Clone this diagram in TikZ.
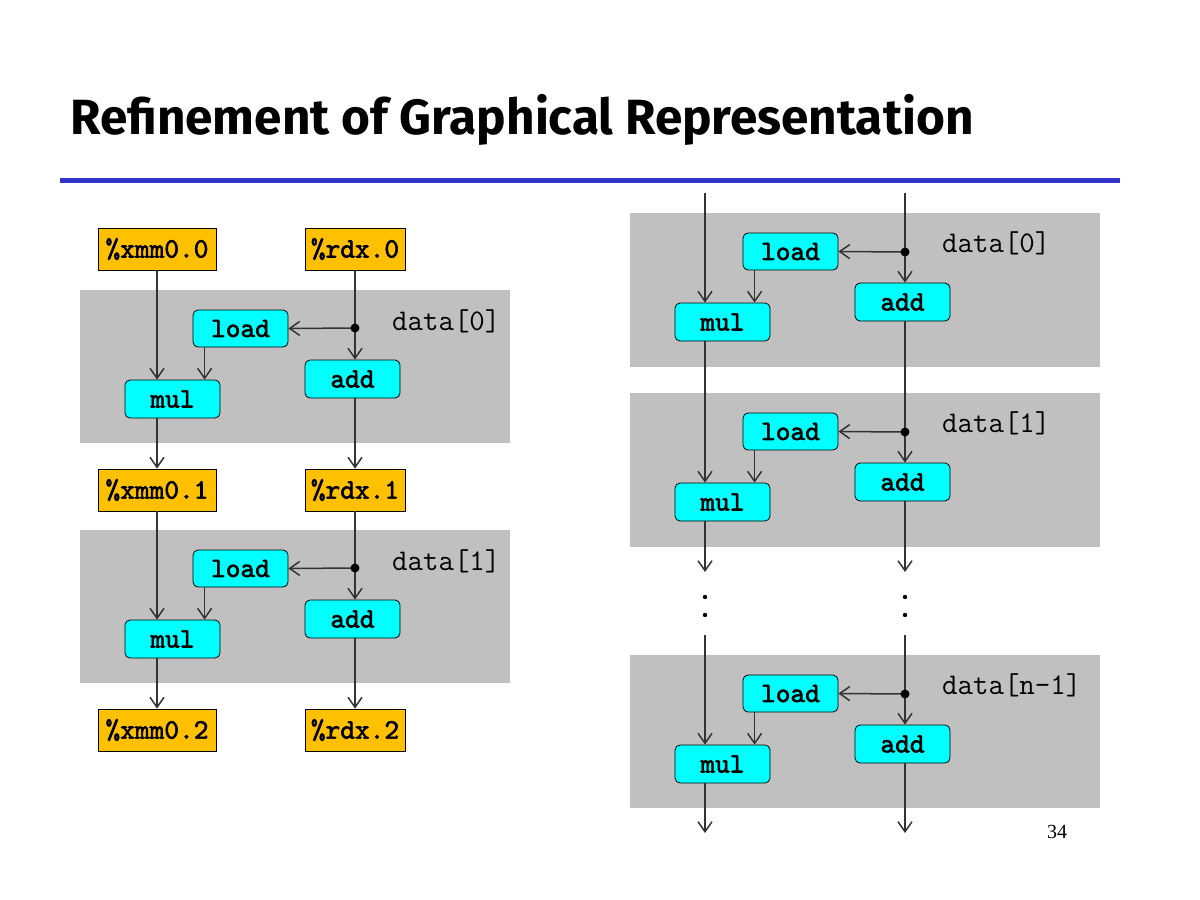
\documentclass[tikz,border=0pt]{standalone}
\usepackage{fontspec}
\usetikzlibrary{arrows.meta}
\newfontfamily\titlefont{Fira Sans}
\newfontfamily\pagefont{Liberation Serif}
\newfontfamily\codebold[FakeBold=2.2]{lmmono10-regular.otf}
\definecolor{regcolor}{HTML}{FFC000}
\definecolor{opcolor}{HTML}{00FFFF}
\definecolor{iterbg}{HTML}{C0C0C0}
\definecolor{rulecolor}{HTML}{3333CC}
\definecolor{wirecolor}{HTML}{333333}

\begin{document}
\begin{tikzpicture}[x=1pt,y=-1pt]

    \tikzset{
      reg/.style={
        draw=black,
        fill=regcolor,
        line width=0.8pt,
        minimum height=42pt,
        inner sep=0pt,
        font=\codebold\fontsize{28}{28}\selectfont,
      },
      op/.style={
        draw=black,
        fill=opcolor,
        rounded corners=5pt,
        line width=0.8pt,
        minimum width=95pt,
        minimum height=38pt,
        inner sep=0pt,
        font=\codebold\fontsize{28}{28}\selectfont,
      },
      iter/.style={anchor=west, inner sep=0pt, font=\ttfamily\fontsize{30}{30}\selectfont},
      wire/.style={color=wirecolor, line width=1.5pt},
      flow/.style={wire, -{Straight Barb[length=10pt,width=14pt]}},
      junction/.style={fill=black},
    }
    \useasboundingbox (0,0) rectangle (1200,900);

	% title and rule
	\node[anchor=west, inner sep=0pt, font=\titlefont\bfseries\fontsize{49.5}{54}\selectfont] (title) at (70,120) {Refinement of Graphical Representation};
	\fill[rulecolor] (60,178) rectangle (1120,182.5);

	% left: two iterations with registers
	\fill[iterbg] (80,290) rectangle (510,443);
	\fill[iterbg] (80,530) rectangle (510,683);

	\node[reg, minimum width=118pt] (xmm0) at (157,249) {\%xmm0.0};
	\node[reg, minimum width=100pt] (rdx0) at (355,249) {\%rdx.0};
	\node[reg, minimum width=118pt] (xmm1) at (157,490) {\%xmm0.1};
	\node[reg, minimum width=100pt] (rdx1) at (355,490) {\%rdx.1};
	\node[reg, minimum width=118pt] (xmm2) at (157,730) {\%xmm0.2};
	\node[reg, minimum width=100pt] (rdx2) at (355,730) {\%rdx.2};

	\node[op, minimum height=37pt] (loadL0) at (240.5,328.5) {load};
	\node[op] (mulL0) at (172.5,399) {mul};
	\node[op] (addL0) at (352.5,379) {add};
	\node[iter] (iterL0) at (392,321) {data[0]};
	\coordinate (dotL0) at (355,328);

	\node[op, minimum height=37pt] (loadL1) at (240.5,568.5) {load};
	\node[op] (mulL1) at (172.5,639) {mul};
	\node[op] (addL1) at (352.5,619) {add};
	\node[iter] (iterL1) at (392,561) {data[1]};
	\coordinate (dotL1) at (355,568);

	\draw[flow] (xmm0.south) -- (xmm0.south |- mulL0.north);
	\draw[wire] (rdx0.south) -- (dotL0);
	\draw[flow] (dotL0) -- (dotL0 |- addL0.north);
	\draw[flow] (dotL0) -- (loadL0.east);
	\fill[junction] (dotL0) circle (4.5pt);
	\draw[flow] ([xshift=12pt]loadL0.south west) -- ([xshift=12pt]loadL0.south west |- mulL0.north);
	\draw[flow] (xmm1.north |- mulL0.south) -- (xmm1.north);
	\draw[flow] (rdx1.north |- addL0.south) -- (rdx1.north);

	\draw[flow] (xmm1.south) -- (xmm1.south |- mulL1.north);
	\draw[wire] (rdx1.south) -- (dotL1);
	\draw[flow] (dotL1) -- (dotL1 |- addL1.north);
	\draw[flow] (dotL1) -- (loadL1.east);
	\fill[junction] (dotL1) circle (4.5pt);
	\draw[flow] ([xshift=12pt]loadL1.south west) -- ([xshift=12pt]loadL1.south west |- mulL1.north);
	\draw[flow] (xmm2.north |- mulL1.south) -- (xmm2.north);
	\draw[flow] (rdx2.north |- addL1.south) -- (rdx2.north);

	% right: iterations chained
	\fill[iterbg] (630,213) rectangle (1100,367);
	\fill[iterbg] (630,393) rectangle (1100,547);
	\fill[iterbg] (630,655) rectangle (1100,808);

	\node[op, minimum height=37pt] (loadR0) at (790.5,251.5) {load};
	\node[op] (mulR0) at (722.5,322) {mul};
	\node[op] (addR0) at (902.5,302) {add};
	\node[iter] (iterR0) at (942,243) {data[0]};
	\coordinate (dotR0) at (905,252);

	\node[op, minimum height=37pt] (loadR1) at (790.5,431.5) {load};
	\node[op] (mulR1) at (722.5,502) {mul};
	\node[op] (addR1) at (902.5,482) {add};
	\node[iter] (iterR1) at (942,423) {data[1]};
	\coordinate (dotR1) at (905,432);

	\node[op, minimum height=37pt] (loadR2) at (790.5,693.5) {load};
	\node[op] (mulR2) at (722.5,764) {mul};
	\node[op] (addR2) at (902.5,744) {add};
	\node[iter] (iterR2) at (942,685) {data[n-1]};
	\coordinate (dotR2) at (905,694);

	\coordinate (mtop) at (705,193);
	\coordinate (atop) at (905,193);
	\coordinate (mgap) at (705,572);
	\coordinate (agap) at (905,572);
	\coordinate (mresume) at (705,635);
	\coordinate (aresume) at (905,635);
	\coordinate (mend) at (705,833);
	\coordinate (aend) at (905,833);

	\draw[flow] (mtop) -- (mtop |- mulR0.north);
	\draw[wire] (atop) -- (dotR0);
	\draw[flow] (dotR0) -- (dotR0 |- addR0.north);
	\draw[flow] (dotR0) -- (loadR0.east);
	\fill[junction] (dotR0) circle (4.5pt);
	\draw[flow] ([xshift=12pt]loadR0.south west) -- ([xshift=12pt]loadR0.south west |- mulR0.north);

	\draw[flow] (mtop |- mulR0.south) -- (mtop |- mulR1.north);
	\draw[wire] (atop |- addR0.south) -- (dotR1);
	\draw[flow] (dotR1) -- (dotR1 |- addR1.north);
	\draw[flow] (dotR1) -- (loadR1.east);
	\fill[junction] (dotR1) circle (4.5pt);
	\draw[flow] ([xshift=12pt]loadR1.south west) -- ([xshift=12pt]loadR1.south west |- mulR1.north);

	\draw[flow] (mtop |- mulR1.south) -- (mgap);
	\draw[flow] (atop |- addR1.south) -- (agap);
	\fill[junction] (705,597) circle (2.2pt) (705,615) circle (2.2pt);
	\fill[junction] (905,597) circle (2.2pt) (905,615) circle (2.2pt);

	\draw[flow] (mresume) -- (mresume |- mulR2.north);
	\draw[wire] (aresume) -- (dotR2);
	\draw[flow] (dotR2) -- (dotR2 |- addR2.north);
	\draw[flow] (dotR2) -- (loadR2.east);
	\fill[junction] (dotR2) circle (4.5pt);
	\draw[flow] ([xshift=12pt]loadR2.south west) -- ([xshift=12pt]loadR2.south west |- mulR2.north);
	\draw[flow] (mtop |- mulR2.south) -- (mend);
	\draw[flow] (atop |- addR2.south) -- (aend);

	\node[font=\pagefont\fontsize{20}{20}\selectfont] (pagenum) at (1057,832) {34};

\end{tikzpicture}
\end{document}
